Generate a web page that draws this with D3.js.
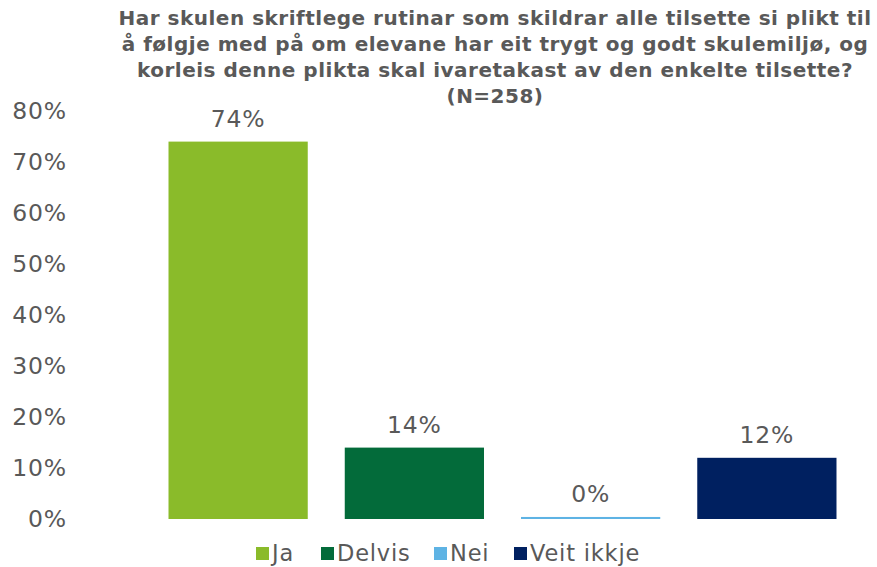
<!DOCTYPE html>
<html><head><meta charset="utf-8">
<script src="https://cdn.jsdelivr.net/npm/d3@7"></script>
<style>body{margin:0;background:#fff}svg{display:block}text{font-family:"DejaVu Sans",Verdana,sans-serif}</style>
</head><body><svg id="c" width="877" height="567"></svg>
<script>
const categories = ["Ja","Delvis","Nei","Veit ikkje"];
const values = [74, 14, 0.4, 12];
const labels = ["74%","14%","0%","12%"];
const colors = ["#8abb2a","#036b3a","#5eb3e4","#002060"];
const yTicks = [0,10,20,30,40,50,60,70,80];
const titleLines = ["Har skulen skriftlege rutinar som skildrar alle tilsette si plikt til","å følgje med på om elevane har eit trygt og godt skulemiljø, og","korleis denne plikta skal ivaretakast av den enkelte tilsette?","(N=258)"];

const svg = d3.select("#c");
const x = d3.scaleBand().domain(categories).range([150,855]).paddingInner(0.21).paddingOuter(0.105);
const y = d3.scaleLinear().domain([0,80]).range([519,111]);
const grey = "#595959";

svg.append("g").selectAll("text").data(titleLines).join("text")
  .attr("x",495).attr("y",(d,i)=>25+i*26).attr("text-anchor","middle")
  .attr("font-size",20).attr("font-weight","bold").attr("fill",grey)
  .attr("letter-spacing",0.5).text(d=>d);

const ax = svg.append("g").attr("transform","translate(67,0)")
  .call(d3.axisLeft(y).tickValues(yTicks).tickFormat(d=>d+"%").tickSize(0).tickPadding(0));
ax.select(".domain").remove();
ax.selectAll("text").attr("font-size",23.5).attr("fill",grey).attr("letter-spacing",0.8)
  .attr("font-family",'"DejaVu Sans",Verdana,sans-serif');

svg.append("g").selectAll("rect").data(categories).join("rect")
  .attr("x",d=>x(d)).attr("width",x.bandwidth())
  .attr("y",(d,i)=>y(values[i])).attr("height",(d,i)=>y(0)-y(values[i]))
  .attr("fill",(d,i)=>colors[i]);

svg.append("g").selectAll("text").data(categories).join("text")
  .attr("x",d=>x(d)+x.bandwidth()/2).attr("y",(d,i)=>y(values[i])-15)
  .attr("text-anchor","middle").attr("font-size",23.5).attr("letter-spacing",0.8).attr("fill",grey)
  .text((d,i)=>labels[i]);

const legX = [256,321,434,514];
const lg = svg.append("g").selectAll("g").data(categories).join("g")
  .attr("transform",(d,i)=>`translate(${legX[i]},547)`);
lg.append("rect").attr("width",13).attr("height",13).attr("fill",(d,i)=>colors[i]);
lg.append("text").attr("x",16).attr("y",14).attr("font-size",22.5).attr("letter-spacing",0.8).attr("fill",grey).text(d=>d);
</script></body></html>
